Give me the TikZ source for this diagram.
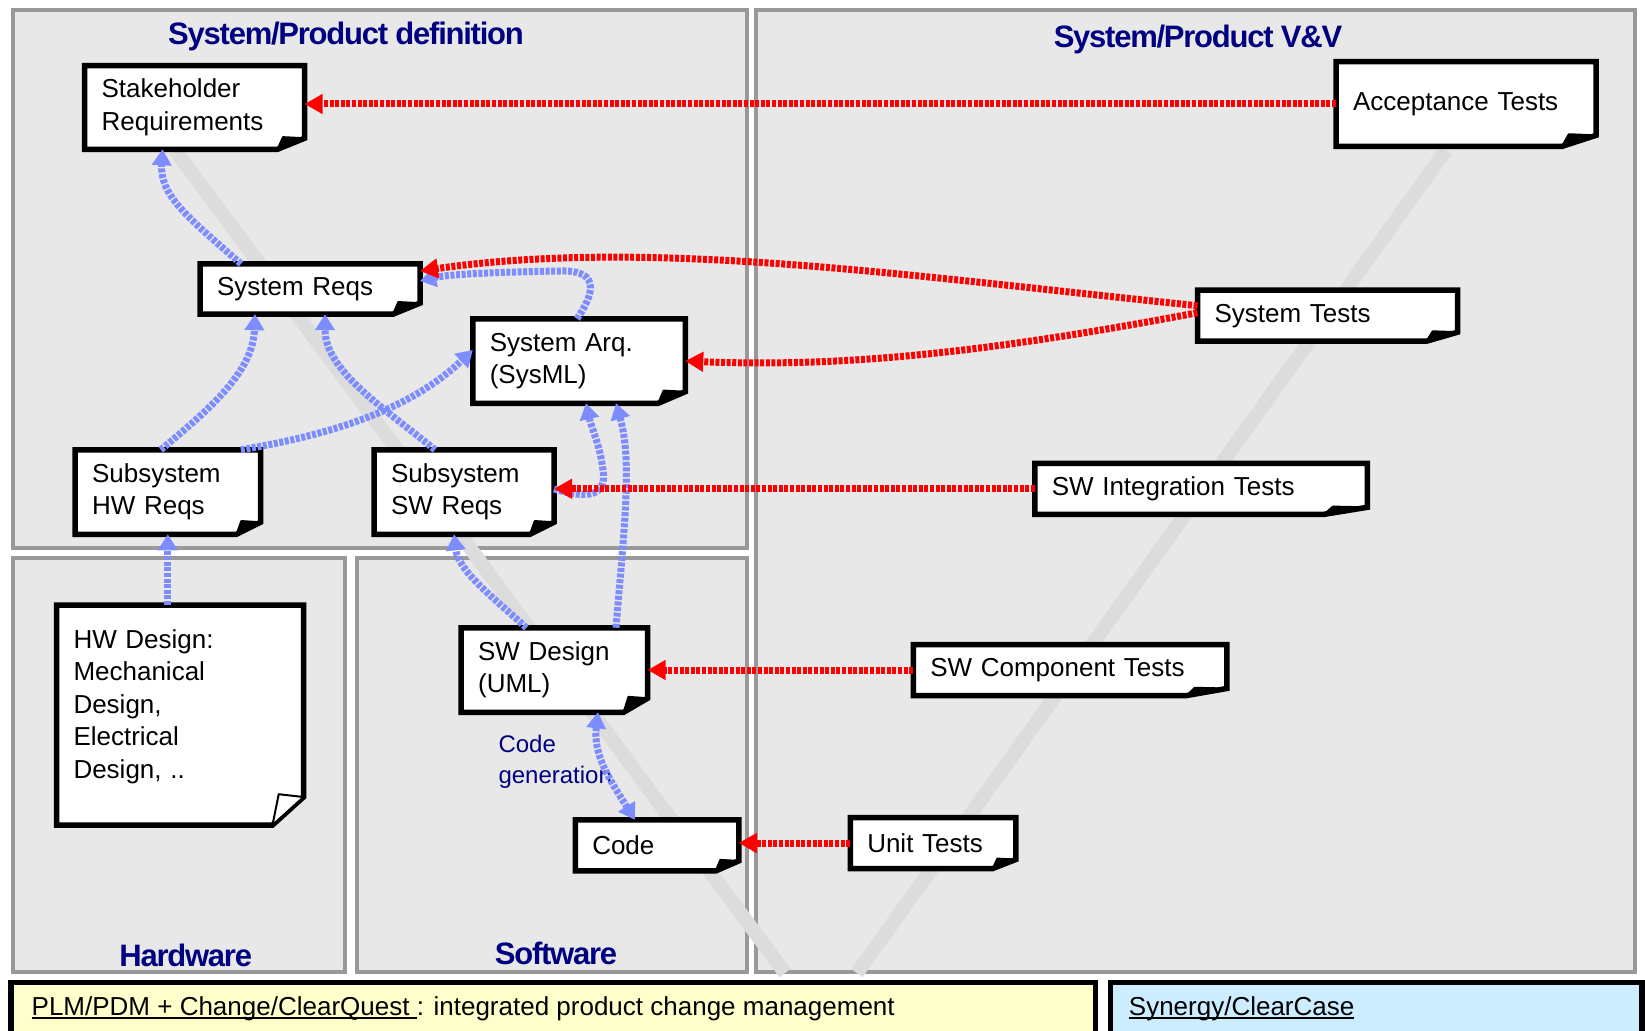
\documentclass[tikz,border=0pt]{standalone}
\usepackage{fontspec}
\setmainfont{Liberation Sans}
\newfontfamily\titlefont[LetterSpace=-4]{Liberation Sans}
\usetikzlibrary{arrows.meta,calc}
\pgfdeclarelayer{back}\pgfdeclarelayer{mid}
\pgfsetlayers{back,mid,main}
\definecolor{navy}{RGB}{0,0,128}
\definecolor{panelfill}{RGB}{232,232,232}
\definecolor{panelline}{RGB}{153,153,153}
\definecolor{vband}{RGB}{220,220,220}
\definecolor{bluearr}{RGB}{125,140,255}
\definecolor{yellowbar}{RGB}{255,255,204}
\definecolor{bluebar}{RGB}{204,236,255}
\newcommand\myul[1]{\setbox0\hbox{#1}\rlap{\rule[-3pt]{\wd0}{1.5pt}}\box0}
\tikzset{
 notebox/.style={draw=none, outer sep=0pt, inner xsep=17pt, inner ysep=2pt, align=left, font=\fontsize{26}{32.5}\selectfont},
 panel/.style={fill=panelfill, draw=panelline, line width=4pt},
 vline/.style={draw=vband, line width=14pt},
 trace/.style={draw=bluearr, line width=7pt, dash pattern=on 4pt off 1.6pt, -{Triangle[length=16pt,width=19pt]}},
 verif/.style={draw=red, line width=7pt, dash pattern=on 4pt off 1.6pt, -{Triangle[length=18pt,width=19pt]}},
 title/.style={text=navy, inner sep=0pt, font=\titlefont\fontsize{31}{36}\selectfont\bfseries},
 noteframe/.style={draw=black, fill=white, line width=5.5pt, line join=miter},
}
\newcommand\notefr[4][black]{%
 \begin{pgfonlayer}{mid}
 \path[noteframe] (#2.north west) -- (#2.north east) -- ([yshift=#4pt]#2.south east) -- ([xshift=-#3pt]#2.south east) -- (#2.south west) -- cycle;
 \filldraw[fill=#1, draw=black, line width=2pt, line join=round] ([xshift=-0.8*#3pt, yshift=1.1*#4pt]#2.south east) -- ([yshift=#4pt]#2.south east) -- ([xshift=-#3pt]#2.south east) -- cycle;
 \end{pgfonlayer}}
\begin{document}
\begin{tikzpicture}[x=1pt,y=-1pt]
\useasboundingbox (0,0) rectangle (1645,1030);
\begin{pgfonlayer}{back}
\fill[white] (0,0) rectangle (1645,1030);
\path[panel] (12.5,10.5) rectangle (747,547.7);
\path[panel] (756,10.5) rectangle (1634.5,971.5);
\path[panel] (12.5,558) rectangle (345,971.5);
\path[panel] (356.6,558) rectangle (747,971.5);
\draw[vline] (175,150) -- (785,973);
\draw[vline] (1446,150) -- (857,973);
\end{pgfonlayer}

% titles
\node[title] (tdef) at (346,36) {System/Product definition};
\node[title] (tvv) at (1198,39.5) {System/Product V\&V};
\node[title] (thw) at (185.7,955.5) {Hardware};
\node[title] (tsw) at (556,953.5) {Software};

% notes
\node[notebox, text width=186pt, minimum height=83.5pt] (sr) at (194.6,107.5) {Stakeholder\\Requirements};
\node[notebox, text width=186pt, minimum height=50.3pt] (sys) at (310,289) {System Reqs};
\node[notebox, text width=178.5pt, minimum height=84.5pt] (arq) at (579,361) {System Arq.\\(SysML)};
\node[notebox, text width=151.5pt, minimum height=84.5pt] (hw) at (167.8,492) {Subsystem\\HW Reqs};
\node[notebox, text width=146pt, minimum height=84.5pt] (sw) at (464,492) {Subsystem\\SW Reqs};
\node[notebox, text width=213pt, minimum height=220pt] (hwd) at (180,715) {HW Design:\\Mechanical\\Design,\\Electrical\\Design, ..\\[-10pt]\mbox{}};
\node[notebox, text width=152.5pt, minimum height=84.5pt] (swd) at (554.4,670) {SW Design\\(UML)};
\node[notebox, text width=129.5pt, minimum height=51pt] (code) at (657,845.4) {Code};
\node[notebox, text width=226pt, minimum height=84.7pt] (acc) at (1466,104) {Acceptance Tests};
\node[notebox, text width=226pt, minimum height=51pt] (syst) at (1327.5,315.7) {System Tests};
\node[notebox, text width=298.5pt, minimum height=51pt] (swit) at (1201,488.8) {SW Integration Tests};
\node[notebox, text width=279.5pt, minimum height=51pt] (swct) at (1070,670) {SW Component Tests};
\node[notebox, text width=131.5pt, minimum height=51pt] (unit) at (933,843) {Unit Tests};

\notefr{sr}{27}{11}
\notefr{sys}{27}{11}
\notefr{arq}{27}{11.5}
\notefr{hw}{24}{12}
\notefr{sw}{24}{12}
\notefr[white]{hwd}{31}{28}
\notefr{swd}{24}{14}
\notefr{code}{23}{10}
\notefr{acc}{34}{11}
\notefr{syst}{31}{9}
\notefr{swit}{43}{7}
\notefr{swct}{40}{7}
\notefr{unit}{23}{9}

\node[anchor=west, inner sep=0pt, align=left, text=navy, font=\fontsize{24}{30.5}\selectfont] (cg) at (498.3,762) {Code\\generation};

% blue trace arrows
\draw[trace] ([xshift=-69pt]sys.north) .. controls (185,215) and (160,195) .. ([xshift=-32pt]sr.south);
\draw[trace] ([xshift=-7pt]hw.north) .. controls (215,405) and (253,370) .. ([xshift=-55pt]sys.south);
\draw[trace] ([xshift=-29pt]sw.north) .. controls (380,405) and (325,370) .. ([xshift=15pt]sys.south);
\draw[trace] ([xshift=73pt]hw.north) .. controls (330,435) and (410,410) .. ([yshift=11pt]arq.west);
\draw[trace] ([xshift=-2pt]arq.north) .. controls (598,288) and (596,270) .. (560,271) .. controls (500,272) and (450,274) .. ([yshift=8pt]sys.east);
\draw[trace] ([yshift=3pt]sw.east) .. controls (590,500) and (607,495) .. (603,470) .. controls (600,445) and (592,430) .. ([xshift=7pt]arq.south);
\draw[trace] ([xshift=61.6pt]swd.north) .. controls (625,520) and (632,460) .. ([xshift=37pt]arq.south);
\draw[trace] ([xshift=-28pt]swd.north) .. controls (490,595) and (458,570) .. ([xshift=-10pt]sw.south);
\draw[trace] (hwd.north -| hw.south) -- (hw.south);
\draw[trace, {Triangle[length=16pt,width=19pt]}-{Triangle[length=16pt,width=19pt]}] ([xshift=43.6pt]swd.south) .. controls (593,755) and (610,780) .. ([xshift=-22pt]code.north);

% red verification arrows
\draw[verif] (acc.west) -- (acc.west -| sr.east);
\draw[verif] ([yshift=10pt]syst.west) .. controls (900,275) and (650,238) .. ([yshift=18pt]sys.east);
\draw[verif] ([yshift=3pt]syst.west) .. controls (1000,350) and (850,368) .. (arq.east);
\draw[verif] (swit.west) -- (swit.west -| sw.east);
\draw[verif] (swct.west) -- (swct.west -| swd.east);
\draw[verif] (unit.west) -- (unit.west -| code.east);

% bottom bars
\path[fill=yellowbar, draw=black, line width=5.5pt] (11,982.7) rectangle (1095.3,1045);
\path[fill=bluebar, draw=black, line width=5.5pt] (1110.7,982.7) rectangle (1642,1045);
\node[anchor=west, inner sep=0pt, font=\fontsize{26}{30}\selectfont] (plm) at (31.5,1009) {\myul{PLM/PDM + Change/ClearQuest } : integrated product change management};
\node[anchor=west, inner sep=0pt, font=\fontsize{26}{30}\selectfont] (syn) at (1128.7,1009) {\myul{Synergy/ClearCase}};
\end{tikzpicture}
\end{document}
